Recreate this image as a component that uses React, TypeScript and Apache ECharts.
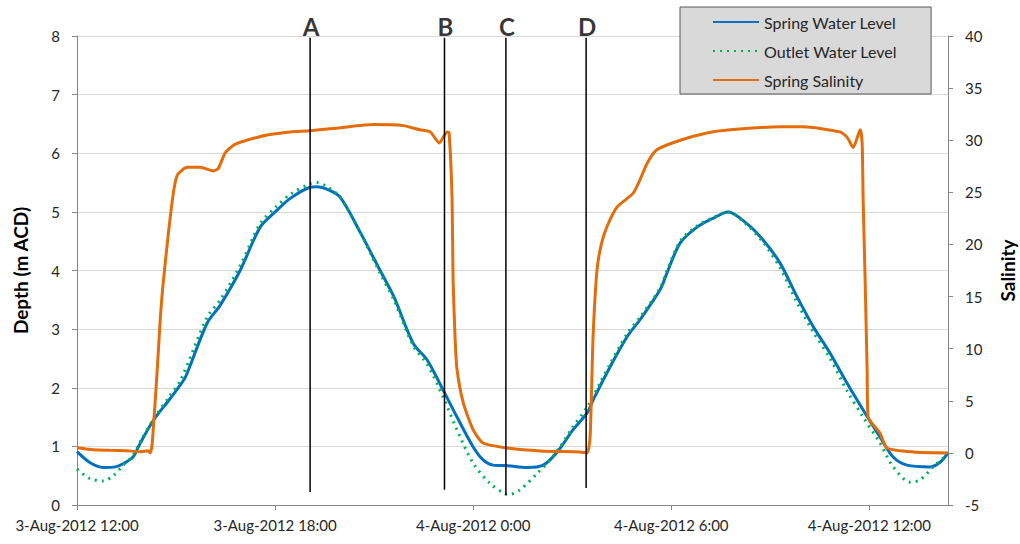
import React, { useEffect, useRef } from "react";
import * as echarts from "echarts";

// Hours since 3-Aug-2012 12:00
const xTickLabels = ["3-Aug-2012 12:00", "3-Aug-2012 18:00", "4-Aug-2012 0:00", "4-Aug-2012 6:00", "4-Aug-2012 12:00"];
const xMaxHours = 26.38;

const springHours = [0, 0.4, 0.8, 1.16, 1.45, 1.7, 1.92, 2.32, 2.8, 3.13, 3.3, 3.94, 4.34, 4.94, 5.55, 6.06, 6.46, 7.06, 7.27, 7.6, 7.97, 8.58, 9.18, 9.6, 10.18, 10.61, 11.09, 11.51, 12.0, 12.3, 12.6, 13.03, 13.63, 14.12, 14.54, 15.02, 15.45, 15.63, 16.14, 16.66, 17.05, 17.66, 17.87, 18.27, 18.78, 19.26, 19.72, 20.29, 20.78, 21.29, 21.81, 22.3, 22.81, 23.32, 23.81, 24.32, 24.72, 25.14, 25.84, 26.14, 26.38];
const springDepth = [0.91, 0.72, 0.64, 0.65, 0.72, 0.82, 1.06, 1.45, 1.8, 2.05, 2.2, 3.1, 3.41, 4.0, 4.74, 5.03, 5.23, 5.42, 5.43, 5.38, 5.25, 4.65, 4.0, 3.55, 2.76, 2.47, 1.96, 1.5, 0.99, 0.77, 0.68, 0.67, 0.64, 0.68, 0.9, 1.28, 1.57, 1.79, 2.35, 2.87, 3.16, 3.67, 3.96, 4.47, 4.74, 4.89, 5.0, 4.8, 4.52, 4.13, 3.55, 3.04, 2.59, 2.08, 1.62, 1.16, 0.82, 0.68, 0.65, 0.73, 0.89];

const outletHours = [0, 0.4, 0.8, 1.1, 1.4, 1.7, 1.92, 2.32, 2.8, 3.13, 3.94, 4.34, 4.94, 5.55, 6.06, 6.46, 7.06, 7.27, 7.6, 7.97, 8.58, 9.18, 9.6, 10.18, 10.61, 11.09, 11.51, 12.0, 12.51, 12.97, 13.1, 13.42, 13.94, 14.33, 14.63, 15.02, 15.45, 15.84, 16.14, 16.66, 17.05, 17.66, 17.87, 18.27, 18.78, 19.26, 19.72, 20.29, 20.78, 21.29, 21.81, 22.3, 22.81, 23.32, 23.81, 24.32, 24.72, 25.24, 25.54, 25.93, 26.23, 26.38];
const outletDepth = [0.61, 0.45, 0.41, 0.5, 0.68, 0.85, 1.08, 1.47, 1.85, 2.12, 3.2, 3.5, 4.08, 4.8, 5.1, 5.3, 5.48, 5.5, 5.42, 5.25, 4.65, 3.95, 3.5, 2.72, 2.4, 1.84, 1.28, 0.71, 0.37, 0.19, 0.18, 0.26, 0.54, 0.77, 0.99, 1.33, 1.67, 2.08, 2.4, 2.92, 3.2, 3.7, 4.0, 4.5, 4.76, 4.9, 5.0, 4.78, 4.48, 4.05, 3.45, 2.95, 2.5, 1.95, 1.5, 1.06, 0.65, 0.39, 0.43, 0.65, 0.8, 0.89];

const salinityHours = [0, 0.5, 1.0, 1.5, 1.92, 2.15, 2.22, 2.28, 2.43, 2.52, 2.62, 2.89, 3.04, 3.34, 3.73, 4.13, 4.28, 4.49, 4.73, 5.04, 5.76, 6.46, 7.06, 7.97, 8.97, 9.88, 10.39, 10.7, 10.97, 11.21, 11.27, 11.36, 11.39, 11.45, 11.51, 11.7, 12.0, 12.3, 13.03, 14.03, 15.23, 15.45, 15.54, 15.63, 15.75, 15.88, 16.05, 16.36, 16.84, 17.05, 17.27, 17.57, 18.27, 19.08, 19.78, 21.29, 21.99, 23.11, 23.32, 23.51, 23.72, 23.78, 23.81, 23.87, 23.93, 23.96, 24.32, 24.53, 25.33, 26.38];
const salinityValues = [0.5, 0.3, 0.25, 0.2, 0.12, 0.2, 0.0, 0.95, 7.96, 12.75, 16.6, 24.3, 26.67, 27.4, 27.4, 27.05, 27.3, 28.8, 29.5, 29.9, 30.5, 30.8, 30.9, 31.2, 31.5, 31.4, 31.0, 30.8, 29.74, 30.8, 30.7, 24.3, 16.6, 11.1, 8.0, 4.8, 2.2, 0.95, 0.47, 0.18, 0.09, 0.0, 1.5, 11.1, 17.55, 20.0, 21.7, 23.6, 24.9, 26.2, 27.8, 29.1, 30.0, 30.7, 31.0, 31.3, 31.3, 30.8, 30.3, 29.3, 31.0, 29.7, 24.3, 16.6, 8.0, 3.45, 1.9, 0.47, 0.09, 0.0];

const markerNames = ["A", "B", "C", "D"];
const markerHours = [7.06, 11.13, 12.99, 15.42];
const markerBottoms = [0.22, 0.26, 0.17, 0.29];
const markerTop = 7.97;

const FONT = "Lato";

export default function App() {
  const ref = useRef<HTMLDivElement>(null);
  useEffect(() => {
    if (!ref.current) return;
    const chart = echarts.init(ref.current, null, { renderer: "svg" });
    const pair = (hs: number[], vs: number[]) => hs.map((h, i) => [h, vs[i]]);
    const markerSeries: any[] = markerNames.map((n, i) => ({
      name: "marker" + n,
      type: "line",
      yAxisIndex: 0,
      symbol: "none",
      lineStyle: { color: "#000", width: 1.5 },
      data: [[markerHours[i], markerBottoms[i]], [markerHours[i], markerTop]],
      z: 5,
      silent: true,
    }));
    const labelSeries = {
      name: "markerLabels",
      type: "scatter",
      yAxisIndex: 0,
      symbolSize: 1,
      itemStyle: { color: "rgba(0,0,0,0)" },
      label: {
        show: true,
        position: "top",
        distance: 0,
        offset: [1, 1],
        formatter: (p: any) => p.value[2],
        fontFamily: FONT,
        fontWeight: "bold",
        fontSize: 24,
        color: "#000",
      },
      data: markerNames.map((n, i) => [markerHours[i], markerTop, n]),
      z: 6,
      silent: true,
    };
    chart.setOption({
      animation: false,
      textStyle: { fontFamily: FONT },
      grid: { left: 77, right: 72, top: 36, bottom: 39, containLabel: false, outerBoundsMode: "none" },
      legend: {
        data: ["Spring Water Level", "Outlet Water Level", "Spring Salinity"],
        orient: "vertical",
        left: 680,
        top: 7,
        backgroundColor: "#d9d9d9",
        borderColor: "#595959",
        borderWidth: 1,
        borderRadius: 0,
        padding: [7, 34, 6, 32],
        itemWidth: 46,
        itemHeight: 14,
        itemGap: 13,
        itemStyle: { opacity: 0 },
        textStyle: { fontFamily: FONT, fontSize: 16, color: "#262626" },
      },
      xAxis: {
        type: "value",
        min: 0,
        max: xMaxHours,
        interval: 6,
        axisLine: { lineStyle: { color: "#868686" } },
        axisTick: { show: true, length: 5, lineStyle: { color: "#868686" } },
        splitLine: { show: false },
        axisLabel: {
          margin: 12,
          fontSize: 15,
          color: "#262626",
          fontFamily: FONT,
          showMaxLabel: false,
          formatter: (v: number) => {
            const k = v / 6;
            if (Math.abs(k - Math.round(k)) > 1e-6) return "";
            return xTickLabels[Math.round(k)] ?? "";
          },
        },
      },
      yAxis: [
        {
          type: "value",
          min: 0,
          max: 8,
          interval: 1,
          name: "Depth (m ACD)",
          nameLocation: "middle",
          nameRotate: 90,
          nameGap: 47,
          nameTextStyle: { fontFamily: FONT, fontWeight: "bold", fontSize: 19, color: "#000" },
          axisLine: { show: true, lineStyle: { color: "#868686" } },
          axisTick: { show: true, length: 5, lineStyle: { color: "#868686" } },
          splitLine: { show: true, lineStyle: { color: "#d9d9d9", width: 1 } },
          axisLabel: { margin: 17, fontSize: 15, color: "#262626", fontFamily: FONT },
        },
        {
          type: "value",
          min: -5,
          max: 40,
          interval: 5,
          position: "right",
          name: "Salinity",
          nameLocation: "middle",
          nameRotate: 90,
          nameGap: 50,
          nameTextStyle: { fontFamily: FONT, fontWeight: "bold", fontSize: 19, color: "#000" },
          axisLine: { show: true, lineStyle: { color: "#868686" } },
          axisTick: { show: true, length: 5, lineStyle: { color: "#868686" } },
          splitLine: { show: false },
          axisLabel: { margin: 17, fontSize: 15, color: "#262626", fontFamily: FONT },
        },
      ],
      series: [
        {
          name: "Spring Water Level",
          type: "line",
          yAxisIndex: 0,
          symbol: "none",
          smooth: 0.3,
          lineStyle: { color: "#0070C0", width: 3 },
          itemStyle: { color: "#0070C0" },
          data: pair(springHours, springDepth),
          z: 2,
        },
        {
          name: "Outlet Water Level",
          type: "line",
          yAxisIndex: 0,
          symbol: "none",
          smooth: 0.3,
          lineStyle: { color: "#00B050", width: 3, type: [2, 5] },
          itemStyle: { color: "#00B050" },
          data: pair(outletHours, outletDepth),
          z: 3,
        },
        {
          name: "Spring Salinity",
          type: "line",
          yAxisIndex: 1,
          symbol: "none",
          smooth: 0.2,
          lineStyle: { color: "#E46C0A", width: 3 },
          itemStyle: { color: "#E46C0A" },
          data: pair(salinityHours, salinityValues),
          z: 4,
        },
        ...markerSeries,
        labelSeries,
      ],
    });
    return () => chart.dispose();
  }, []);
  return (
    <div
      ref={ref}
      style={{ position: "fixed", left: 0, top: 0, width: 1020, height: 544, background: "#fff" }}
    />
  );
}
